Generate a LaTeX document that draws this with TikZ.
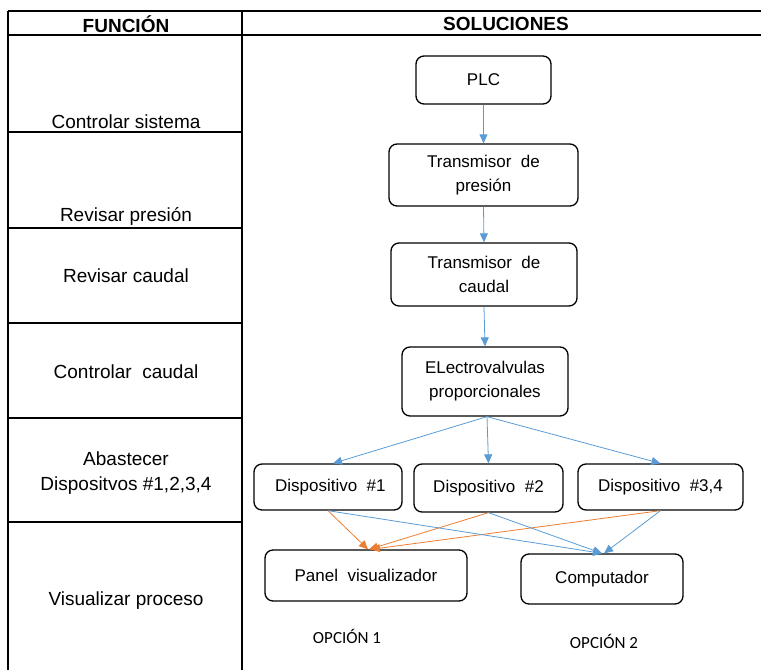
\documentclass[tikz,border=0pt]{standalone}
\usepackage{fontspec}
\setmainfont{Liberation Sans}
\newfontfamily\optfont{Carlito}
\usetikzlibrary{arrows.meta}
\definecolor{flowblue}{HTML}{5B9BD5}
\definecolor{floworange}{HTML}{ED7D31}
\begin{document}
\begin{tikzpicture}[x=1pt,y=-1pt,
  grid/.style={line width=1.3pt},
  head/.style={font=\fontsize{19}{22}\selectfont\bfseries},
  func/.style={font=\fontsize{19}{24.5}\selectfont, align=center},
  box/.style={draw, rounded corners=8pt, line width=1.3pt, align=center,
    inner sep=0pt, font=\fontsize{17}{24}\selectfont},
  flow/.style={draw=flowblue, line width=0.8pt, -{Triangle[length=9pt,width=8pt]}},
  altflow/.style={draw=floworange, line width=0.8pt, -{Triangle[length=9pt,width=8pt]}},
  opt/.style={font=\fontsize{17}{20}\selectfont\optfont}]
\useasboundingbox (0,0) rectangle (761,670);

% table grid
\draw[grid] (8,11) -- (761,11);
\draw[grid] (8,35) -- (761,35);
\draw[grid] (8,11) -- (8,670);
\draw[grid] (242,11) -- (242,670);
\foreach \yy in {132,228,323,418,522}
  \draw[grid] (8,\yy) -- (243,\yy);

% headers
\node[head] (hf) at (126,24) {FUNCIÓN};
\node[head] (hs) at (506,24) {SOLUCIONES};

% function column
\node[func] (f1) at (126,122) {Controlar sistema};
\node[func] (f2) at (126,216) {Revisar presión};
\node[func] (f3) at (126,276) {Revisar caudal};
\node[func] (f4) at (126,372) {Controlar~ caudal};
\node[func] (f5) at (126,473) {Abastecer\\Dispositvos \#1,2,3,4};
\node[func] (f6) at (126,601) {Visualizar proceso};

% solution boxes
\node[box, minimum width=135pt, minimum height=48pt] (plc) at (483.5,80) {PLC};
\node[box, minimum width=189pt, minimum height=62pt] (tp) at (483.5,175) {Transmisor~ de\\presión};
\node[box, minimum width=186pt, minimum height=63pt] (tc) at (484,274.5) {Transmisor~ de\\caudal};
\node[box, minimum width=166pt, minimum height=69pt] (ev) at (485,381.5) {ELectrovalvulas\\proporcionales};
\node[box, minimum width=148pt, minimum height=46pt] (d1) at (328,487) {~Dispositivo~ \#1};
\node[box, minimum width=149pt, minimum height=48pt] (d2) at (488.5,488) {Dispositivo~ \#2};
\node[box, minimum width=165pt, minimum height=46pt] (d3) at (660.5,487) {Dispositivo~ \#3,4};
\node[box, minimum width=202pt, minimum height=51pt] (pv) at (366,575.5) {Panel~ visualizador};
\node[box, minimum width=162pt, minimum height=50pt] (cp) at (602,579) {Computador};

% option labels
\node[opt] (o1) at (347,636) {OPCIÓN 1};
\node[opt] (o2) at (604,641) {OPCIÓN 2};

% signal chain
\draw[flow] (plc.south) -- (tp.north);
\draw[flow] (tp.south) -- (tc.north);
\draw[flow] (tc.south) -- (ev.north);
\draw[flow] ([xshift=2pt]ev.south) -- ([xshift=5pt]d1.north);
\draw[flow] ([xshift=2pt]ev.south) -- (d2.north);
\draw[flow] ([xshift=2pt]ev.south) -- (d3.north);

% option 1: panel
\draw[altflow] (d1.south) -- ([xshift=2pt]pv.north);
\draw[altflow] (d2.south) -- ([xshift=3pt]pv.north);
\draw[altflow] (d3.south) -- ([xshift=5pt]pv.north);

% option 2: computer
\draw[flow] (d1.south) -- (cp.north);
\draw[flow] (d2.south) -- (cp.north);
\draw[flow] (d3.south) -- ([xshift=2pt]cp.north);
\end{tikzpicture}
\end{document}
